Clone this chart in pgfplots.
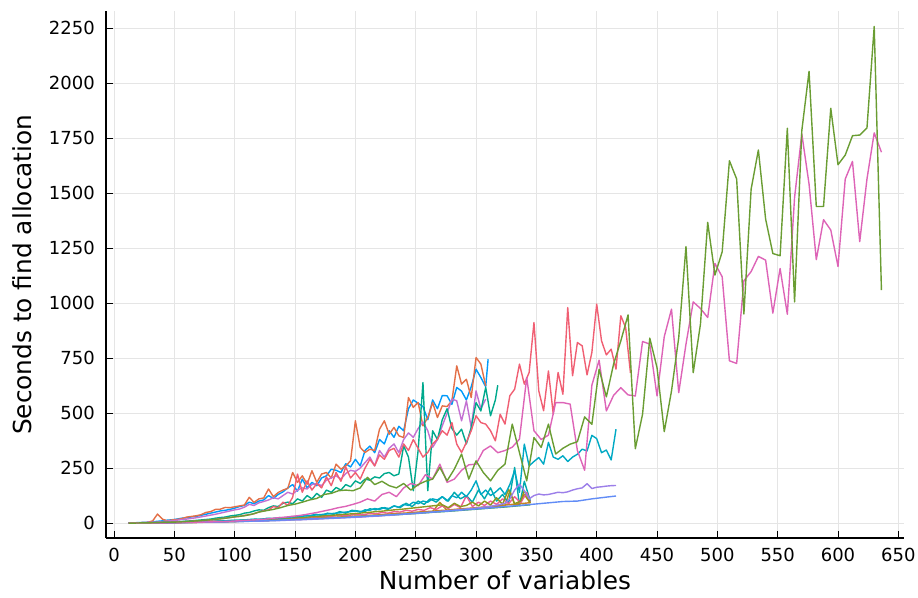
\documentclass[border=0pt]{standalone}
\usepackage{fontspec}
\setmainfont{DejaVu Sans}
\usepackage{pgfplots}
\pgfplotsset{compat=1.18}

% Series palette
\definecolor{c1}{HTML}{009AFA}
\definecolor{c2}{HTML}{E36F47}
\definecolor{c3}{HTML}{3EA44E}
\definecolor{c4}{HTML}{C371D2}
\definecolor{c5}{HTML}{AC8E18}
\definecolor{c6}{HTML}{00AAAE}
\definecolor{c7}{HTML}{ED5E93}
\definecolor{c8}{HTML}{C68225}
\definecolor{c9}{HTML}{00A98D}
\definecolor{c10}{HTML}{8E971E}
\definecolor{c11}{HTML}{00A9C4}
\definecolor{c12}{HTML}{9C7FE9}
\definecolor{c13}{HTML}{618CF6}
\definecolor{c14}{HTML}{F05F73}
\definecolor{c15}{HTML}{DD64B7}
\definecolor{c16}{HTML}{6A9D33}

\begin{document}
\begin{tikzpicture}
\useasboundingbox (0,0) rectangle (918pt,597pt);
\begin{axis}[
  at={(106pt,59pt)}, anchor=south west,
  scale only axis, width=798pt, height=526.5pt,
  xmin=-6.7, xmax=654.7, ymin=-68, ymax=2327,
  xtick={0,50,...,650}, ytick={0,250,...,2250},
  axis lines*=left, tick pos=left, tick align=inside,
  major tick length=7pt,
  tick style={black, line width=1pt},
  axis line style={black, line width=1.2pt},
  grid=major, major grid style={black!10, line width=0.8pt},
  /pgf/number format/assume math mode=true,
  /pgf/number format/1000 sep={},
  ticklabel style={font=\fontsize{18}{20}\selectfont},
  yticklabel style={anchor=east, inner sep=0pt, xshift=-11pt},
  xticklabel style={anchor=north, inner sep=0pt, yshift=-10pt},
  xlabel={Number of variables},
  ylabel={Seconds to find allocation},
  label style={font=\fontsize{24.8}{28}\selectfont},
  xlabel style={at={(axis description cs:0.5,0)}, anchor=base, yshift=-51pt},
  ylabel style={at={(axis description cs:0,0.5)}, anchor=center, yshift=84pt},
  every axis plot/.append style={line width=1.4pt, line join=round},
  no markers,
]
% 1
\addplot[c1] coordinates {(12,0)(16,1)(20,2)(24,3)(28,4)(32,6)(36,8)(40,10)(44,13)(48,15)(52,18)(56,22)(60,24)(64,28)(68,30)(72,35)(76,40)(80,45)(84,50)(88,55)(92,58)(96,62)(100,68)(104,75)(108,80)(112,95)(116,88)(120,100)(124,105)(128,125)(132,112)(136,130)(140,142)(144,160)(148,175)(152,145)(156,200)(160,160)(164,185)(168,170)(172,205)(176,215)(180,245)(184,240)(188,230)(192,270)(196,255)(200,290)(204,260)(208,330)(212,350)(216,320)(220,380)(224,360)(228,420)(232,390)(236,440)(240,420)(244,520)(248,560)(252,545)(256,530)(260,470)(264,560)(268,520)(272,580)(276,579)(280,540)(284,617)(288,600)(292,560)(296,620)(300,700)(304,662)(308,620)(310,745)};
% 2
\addplot[c2] coordinates {(12,0)(16,1)(20,1)(24,2)(28,3)(32,10)(36,41)(40,18)(44,10)(48,14)(52,16)(56,20)(60,27)(64,30)(68,33)(72,38)(76,48)(80,52)(84,62)(88,63)(92,71)(96,70)(100,74)(104,78)(108,82)(112,117)(116,94)(120,110)(124,114)(128,155)(132,120)(136,139)(140,150)(144,158)(148,230)(152,185)(156,215)(160,177)(164,238)(168,185)(172,223)(176,230)(180,205)(184,268)(188,245)(192,260)(196,283)(200,465)(204,344)(208,321)(212,336)(216,330)(220,427)(224,465)(228,404)(232,435)(236,397)(240,389)(244,571)(248,526)(252,548)(256,442)(260,480)(264,548)(268,480)(272,533)(276,530)(280,556)(284,715)(288,632)(292,654)(296,571)(300,753)(304,723)(308,624)};
% 3
\addplot[c3] coordinates {(12,0)(24,0)(36,1)(48,2)(60,3)(72,4)(84,5)(96,6)(108,8)(120,10)(132,12)(144,15)(156,17)(168,20)(180,23)(192,26)(204,29)(216,33)(228,36)(240,40)(252,44)(264,49)(276,53)(288,58)(300,63)(312,68)(324,73)(336,79)(345,83)};
% 4
\addplot[c4] coordinates {(12,0)(16,0)(20,1)(24,2)(28,3)(32,4)(36,5)(40,7)(44,9)(48,11)(52,13)(56,16)(60,18)(64,21)(68,24)(72,28)(76,32)(80,36)(84,40)(88,45)(92,50)(96,55)(100,60)(104,64)(108,72)(112,85)(116,80)(120,92)(124,98)(128,105)(132,115)(136,110)(140,125)(144,140)(148,132)(152,150)(156,160)(160,155)(164,175)(168,180)(172,170)(176,195)(180,205)(184,215)(188,200)(192,225)(196,240)(200,235)(204,250)(208,275)(212,300)(216,260)(220,330)(224,300)(228,340)(232,360)(236,320)(240,380)(244,410)(248,390)(252,430)(256,460)(260,420)(264,344)(268,380)(272,442)(276,500)(280,564)(284,556)(288,465)(292,556)(296,435)(300,601)(304,520)(308,564)};
% 5
\addplot[c5] coordinates {(12,0)(18,0)(24,0)(30,1)(36,1)(42,1)(48,2)(54,2)(60,3)(66,3)(72,4)(78,5)(84,5)(90,6)(96,7)(102,8)(108,9)(114,10)(120,11)(126,12)(132,13)(138,14)(144,16)(150,17)(156,18)(162,20)(168,21)(174,23)(180,24)(186,26)(192,28)(198,29)(204,31)(210,33)(216,35)(222,37)(228,39)(234,41)(240,43)(246,45)(252,48)(258,50)(264,52)(270,94)(276,57)(282,60)(288,62)(294,65)(300,68)(306,70)(312,73)(318,76)(324,79)(328,147)(332,83)(336,85)(340,130)(345,90)};
% 6
\addplot[c6] coordinates {(12,0)(17,0)(22,0)(27,1)(32,1)(37,1)(42,2)(47,2)(52,3)(57,3)(62,4)(67,5)(72,6)(77,6)(82,8)(87,9)(92,10)(97,12)(102,12)(107,14)(112,16)(117,18)(122,16)(127,22)(132,20)(137,25)(142,22)(147,30)(152,28)(157,36)(162,32)(167,40)(172,35)(177,45)(182,40)(187,52)(192,45)(197,58)(202,55)(207,50)(212,65)(217,60)(222,70)(227,62)(232,78)(237,70)(242,90)(247,75)(252,100)(257,85)(262,110)(267,95)(272,120)(277,100)(282,140)(287,110)(292,125)(297,95)(302,150)(307,110)(312,160)(317,100)(322,130)(327,90)(332,253)(336,79)(340,190)(345,100)};
% 7
\addplot[c7] coordinates {(12,0)(17,0)(22,0)(27,1)(32,1)(37,1)(42,2)(47,2)(52,3)(57,3)(62,4)(67,4)(72,5)(77,6)(82,6)(87,8)(92,8)(97,9)(102,10)(107,11)(112,13)(117,12)(122,15)(127,14)(132,17)(137,18)(142,20)(147,19)(152,23)(157,22)(162,26)(167,25)(172,29)(177,28)(182,32)(187,35)(192,33)(197,37)(202,40)(207,38)(212,44)(217,42)(222,48)(227,45)(232,52)(237,50)(242,58)(247,54)(252,62)(257,58)(262,70)(267,62)(272,78)(277,66)(282,85)(287,70)(292,124)(297,75)(302,95)(307,80)(312,100)(317,85)(322,110)(327,88)(332,120)(337,92)(342,139)(345,95)};
% 8
\addplot[c8] coordinates {(12,0)(18,0)(24,0)(30,1)(36,1)(42,1)(48,2)(54,2)(60,3)(66,3)(72,4)(78,5)(84,6)(90,6)(96,7)(102,8)(108,9)(114,10)(120,11)(126,12)(132,14)(138,15)(144,16)(150,18)(156,19)(162,20)(168,22)(174,24)(180,25)(186,27)(192,29)(198,31)(204,32)(210,34)(216,36)(222,38)(228,41)(234,43)(240,45)(246,47)(252,50)(258,52)(264,54)(270,57)(276,59)(282,62)(288,65)(294,67)(300,70)(306,73)(312,76)(318,79)(324,82)(330,85)(336,88)(342,91)(345,93)};
% 9
\addplot[c9] coordinates {(12,0)(16,0)(20,0)(24,1)(28,1)(32,2)(36,2)(40,3)(44,4)(48,5)(52,6)(56,7)(60,9)(64,10)(68,12)(72,14)(76,16)(80,18)(84,22)(88,25)(92,27)(96,32)(100,35)(104,38)(108,45)(112,48)(116,55)(120,60)(124,58)(128,70)(132,78)(136,75)(140,90)(144,95)(148,88)(152,110)(156,100)(160,125)(164,110)(168,135)(172,117)(176,150)(180,140)(184,162)(188,150)(192,175)(196,165)(200,192)(204,180)(208,200)(212,195)(216,210)(220,205)(224,225)(228,230)(232,215)(236,223)(240,351)(244,300)(248,147)(252,330)(256,639)(260,147)(264,420)(268,380)(272,470)(276,520)(280,430)(284,400)(288,427)(292,360)(296,435)(300,548)(304,510)(308,617)(312,488)(316,560)(318,627)};
% 10
\addplot[c10] coordinates {(12,0)(17,0)(22,1)(27,1)(32,1)(37,2)(42,2)(47,3)(52,3)(57,4)(62,4)(67,5)(72,6)(77,6)(82,7)(87,8)(92,9)(97,10)(102,11)(107,12)(112,13)(117,14)(122,16)(127,17)(132,18)(137,20)(142,21)(147,23)(152,25)(157,26)(162,28)(167,30)(172,32)(177,34)(182,36)(187,38)(192,40)(197,42)(202,44)(207,47)(212,49)(217,52)(222,54)(227,57)(232,60)(237,62)(242,65)(247,68)(252,71)(257,74)(262,77)(267,80)(272,83)(277,70)(282,90)(287,75)(292,80)(297,95)(302,78)(307,100)(312,82)(317,115)(322,85)(327,154)(332,88)(337,100)(340,147)(345,92)};
% 11
\addplot[c11] coordinates {(12,0)(16,0)(20,0)(24,1)(28,1)(32,1)(36,2)(40,2)(44,2)(48,3)(52,3)(56,4)(60,4)(64,5)(68,6)(72,6)(76,7)(80,8)(84,8)(88,9)(92,10)(96,11)(100,12)(104,13)(108,14)(112,15)(116,16)(120,17)(124,19)(128,20)(132,21)(136,23)(140,24)(144,26)(148,28)(152,29)(156,31)(160,33)(164,35)(168,37)(172,39)(176,41)(180,43)(184,45)(188,47)(192,50)(196,52)(200,55)(204,50)(208,60)(212,58)(216,66)(220,62)(224,70)(228,66)(232,78)(236,72)(240,85)(244,80)(248,95)(252,88)(256,100)(260,95)(264,110)(268,105)(272,120)(276,100)(280,125)(284,115)(288,140)(292,120)(296,150)(300,192)(304,130)(308,150)(312,125)(316,140)(320,160)(324,130)(328,175)(332,238)(336,140)(340,359)(344,260)(348,280)(352,298)(356,268)(360,367)(364,300)(368,290)(372,306)(376,280)(380,300)(384,313)(388,336)(392,328)(396,399)(400,384)(404,320)(408,332)(412,287)(416,427)};
% 12
\addplot[c12] coordinates {(12,0)(16,0)(20,0)(24,0)(28,1)(32,1)(36,1)(40,1)(44,1)(48,2)(52,2)(56,2)(60,2)(64,3)(68,3)(72,3)(76,4)(80,4)(84,4)(88,5)(92,5)(96,6)(100,6)(104,7)(108,7)(112,8)(116,8)(120,9)(124,9)(128,10)(132,11)(136,11)(140,12)(144,13)(148,14)(152,14)(156,15)(160,16)(164,17)(168,18)(172,19)(176,20)(180,21)(184,22)(188,23)(192,24)(196,25)(200,26)(204,27)(208,28)(212,30)(216,31)(220,32)(224,34)(228,35)(232,37)(236,38)(240,40)(244,42)(248,43)(252,45)(256,47)(260,48)(264,50)(268,52)(272,54)(276,56)(280,58)(284,60)(288,62)(292,64)(296,66)(300,68)(304,70)(308,74)(312,76)(316,80)(320,85)(324,90)(328,110)(332,150)(336,177)(340,147)(344,110)(348,125)(352,132)(356,128)(360,130)(364,135)(368,140)(372,138)(376,142)(380,150)(384,156)(388,160)(392,179)(396,157)(400,163)(404,165)(408,168)(412,170)(416,171)};
% 13
\addplot[c13] coordinates {(12,0)(24,0)(36,1)(48,2)(60,3)(72,4)(84,5)(96,7)(108,8)(120,10)(132,12)(144,15)(156,17)(168,20)(180,23)(192,26)(204,30)(216,33)(228,37)(240,41)(252,45)(264,50)(276,54)(288,59)(300,64)(312,69)(324,75)(336,80)(348,86)(360,92)(372,98)(384,100)(396,110)(408,118)(416,123)};
% 14
\addplot[c14] coordinates {(12,0)(16,0)(20,0)(24,1)(28,1)(32,1)(36,2)(40,2)(44,3)(48,4)(52,5)(56,5)(60,7)(64,8)(68,9)(72,11)(76,12)(80,14)(84,16)(88,20)(92,22)(96,25)(100,28)(104,30)(108,35)(112,38)(116,42)(120,50)(124,56)(128,60)(132,75)(136,70)(140,95)(144,80)(148,117)(152,223)(156,140)(160,192)(164,150)(168,180)(172,160)(176,210)(180,170)(184,230)(188,190)(192,255)(196,205)(200,230)(204,200)(208,250)(212,290)(216,260)(220,310)(224,290)(228,330)(232,340)(236,300)(240,360)(244,330)(248,380)(252,340)(256,300)(260,321)(264,360)(268,382)(272,420)(276,400)(280,457)(284,359)(288,321)(292,367)(296,420)(300,488)(304,457)(308,450)(312,420)(316,374)(320,495)(324,450)(328,579)(332,609)(336,723)(340,632)(344,685)(348,912)(352,601)(356,511)(360,692)(364,495)(368,685)(372,586)(376,980)(380,670)(384,821)(388,806)(392,674)(396,776)(400,996)(404,829)(408,765)(412,791)(416,700)(420,943)(424,889)(428,682)};
% 15
\addplot[c15] coordinates {(12,0)(18,0)(24,0)(30,1)(36,1)(42,1)(48,2)(54,2)(60,3)(66,3)(72,4)(78,5)(84,6)(90,7)(96,8)(102,10)(108,12)(114,14)(120,16)(126,18)(132,22)(138,25)(144,28)(150,32)(156,36)(162,42)(168,48)(174,55)(180,62)(186,70)(192,76)(198,85)(204,95)(210,110)(216,100)(222,130)(228,140)(234,120)(240,160)(246,180)(252,170)(258,220)(264,200)(270,268)(276,185)(282,200)(288,240)(294,265)(300,268)(306,330)(312,351)(318,320)(324,330)(330,345)(336,382)(342,662)(348,420)(354,380)(360,400)(366,548)(372,548)(378,541)(384,330)(390,240)(396,627)(402,741)(408,510)(414,581)(420,616)(426,583)(432,578)(438,826)(444,814)(450,578)(456,848)(462,973)(468,593)(474,814)(480,1006)(486,976)(492,935)(498,1181)(504,1120)(510,738)(516,726)(522,1102)(528,1144)(534,1213)(540,1196)(546,955)(552,1158)(558,950)(564,1481)(570,1770)(576,1542)(582,1198)(588,1380)(594,1333)(600,1167)(606,1565)(612,1645)(618,1280)(624,1565)(630,1775)(636,1687)};
% 16
\addplot[c16] coordinates {(12,0)(18,0)(24,1)(30,1)(36,2)(42,3)(48,4)(54,5)(60,7)(66,9)(72,11)(78,14)(84,17)(90,20)(96,25)(102,30)(108,33)(114,40)(120,50)(126,56)(132,62)(138,70)(144,80)(150,86)(156,95)(162,105)(168,112)(174,130)(180,135)(186,147)(192,150)(198,147)(204,160)(210,208)(216,175)(222,190)(228,170)(234,160)(240,180)(246,150)(252,175)(258,190)(264,200)(270,253)(276,192)(282,245)(288,314)(294,200)(300,283)(306,230)(312,192)(318,240)(324,268)(330,450)(336,320)(342,192)(348,389)(354,344)(360,450)(366,314)(372,340)(378,359)(384,370)(390,483)(396,449)(402,700)(408,574)(414,723)(420,829)(426,947)(432,338)(438,495)(444,841)(450,707)(456,416)(462,601)(468,844)(474,1258)(480,684)(486,905)(492,1368)(498,1128)(504,1234)(510,1648)(516,1565)(522,951)(528,1519)(534,1697)(540,1383)(546,1226)(552,1216)(558,1796)(564,1006)(570,1785)(576,2055)(582,1440)(588,1440)(594,1887)(600,1630)(606,1674)(612,1762)(618,1765)(624,1797)(630,2259)(636,1060)};
\end{axis}
\end{tikzpicture}
\end{document}
